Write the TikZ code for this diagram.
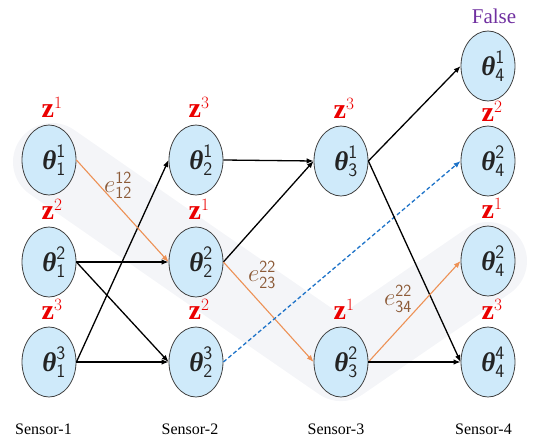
\documentclass[tikz,border=0pt]{standalone}
\usepackage{amsmath}
\usepackage{fontspec}
\setmainfont{Liberation Serif}
\usetikzlibrary{shapes.geometric,arrows.meta}
\DeclareMathSizes{24}{24}{17}{13}
\DeclareMathSizes{27}{27}{19}{15}
\DeclareMathSizes{28}{28}{19}{15}
\definecolor{nodeblue}{RGB}{207,234,250}
\definecolor{zred}{RGB}{235,0,0}
\definecolor{ebrown}{RGB}{140,90,55}
\definecolor{eorange}{RGB}{237,145,85}
\definecolor{eblue}{RGB}{30,115,200}
\definecolor{bandgray}{RGB}{244,245,248}
\definecolor{fpurple}{RGB}{112,48,160}
\definecolor{thgray}{RGB}{35,35,35}
\newcommand\mythl[2]{\hspace*{10pt}$\text{\bfseries\itshape θ}^{\mathsf{#1}}_{\mathsf{#2}}$}
\newcommand\myel[2]{$e^{\mathsf{#1}}_{\mathsf{#2}}$}
\begin{document}
\begin{tikzpicture}[x=1pt,y=-1pt,
  sn/.style={ellipse, draw=black!75, fill=nodeblue, line width=0.8pt, minimum width=54pt, minimum height=70pt, inner sep=0pt, text=thgray, font=\fontsize{27}{29}\selectfont},
  zl/.style={anchor=base, text=zred, font=\fontsize{28}{30}\selectfont},
  el/.style={text=ebrown, font=\fontsize{24}{26}\selectfont},
  sl/.style={font=\fontsize{16}{18}\selectfont},
  arr/.style={-{Latex[length=7pt,width=5.5pt]}, line width=1.3pt, black},
  oarr/.style={-{Latex[length=7pt,width=5.5pt]}, line width=1.1pt, eorange},
  barr/.style={-{Latex[length=7pt,width=5.5pt]}, line width=1.3pt, eblue, dash pattern=on 4pt off 2.5pt}]
\useasboundingbox (0,0) rectangle (533,439);
\draw[line width=78pt, line cap=round, line join=round, color=bandgray] (52,162) -- (196,262) -- (341,362) -- (488,261);

\node[sn] (a1) at (49,160) {\mythl{1}{1}};
\node[sn] (a2) at (49,262) {\mythl{2}{1}};
\node[sn] (a3) at (49,362) {\mythl{3}{1}};
\node[sn] (b1) at (196,160) {\mythl{1}{2}};
\node[sn] (b2) at (196,262) {\mythl{2}{2}};
\node[sn] (b3) at (196,362) {\mythl{3}{2}};
\node[sn] (c1) at (341,161) {\mythl{1}{3}};
\node[sn] (c2) at (341,362) {\mythl{2}{3}};
\node[sn] (d1) at (488,66) {\mythl{1}{4}};
\node[sn] (d2) at (488,161) {\mythl{2}{4}};
\node[sn] (d3) at (488,261) {\mythl{2}{4}};
\node[sn] (d4) at (488,362) {\mythl{4}{4}};

\node[zl] (za1) at ([xshift=3pt,yshift=7pt]a1.north) {$\mathbf{z}^{1}$};
\node[zl] (za2) at ([xshift=3pt,yshift=7pt]a2.north) {$\mathbf{z}^{2}$};
\node[zl] (za3) at ([xshift=3pt,yshift=7pt]a3.north) {$\mathbf{z}^{3}$};
\node[zl] (zb1) at ([xshift=3pt,yshift=7pt]b1.north) {$\mathbf{z}^{3}$};
\node[zl] (zb2) at ([xshift=3pt,yshift=7pt]b2.north) {$\mathbf{z}^{1}$};
\node[zl] (zb3) at ([xshift=3pt,yshift=7pt]b3.north) {$\mathbf{z}^{2}$};
\node[zl] (zc1) at ([xshift=3pt,yshift=7pt]c1.north) {$\mathbf{z}^{3}$};
\node[zl] (zc2) at ([xshift=3pt,yshift=7pt]c2.north) {$\mathbf{z}^{1}$};
\node[zl] (zd2) at ([xshift=4pt,yshift=4pt]d2.north) {$\mathbf{z}^{2}$};
\node[zl] (zd3) at ([xshift=4pt,yshift=7pt]d3.north) {$\mathbf{z}^{1}$};
\node[zl] (zd4) at ([xshift=4pt,yshift=7pt]d4.north) {$\mathbf{z}^{3}$};
\node[text=fpurple, font=\fontsize{21}{24}\selectfont] (fl) at (494,16) {False};

\draw[arr] (a2.east) -- (b2.west);
\draw[arr] (a2.east) -- (b3.west);
\draw[arr] (a3.east) -- (b1.west);
\draw[arr] (a3.east) -- (b3.west);
\draw[oarr] (a1.east) -- (b2.west);
\draw[arr] (b1.east) -- (c1.west);
\draw[arr] (b2.east) -- (c1.west);
\draw[oarr] (b2.east) -- (c2.west);
\draw[barr] (b3.east) -- (d2.west);
\draw[arr] (c1.east) -- (d1.west);
\draw[arr] (c1.east) -- (d4.west);
\draw[oarr] (c2.east) -- (d3.west);
\draw[arr] (c2.east) -- (d4.west);

\node[el] (e1) at (118,185) {\myel{12}{12}};
\node[el] (e2) at (262,275) {\myel{22}{23}};
\node[el] (e3) at (398,299) {\myel{22}{34}};

\node[sl] (s1) at (43.5,429) {Sensor-1};
\node[sl] (s2) at (190,429) {Sensor-2};
\node[sl] (s3) at (336,429) {Sensor-3};
\node[sl] (s4) at (483.5,429) {Sensor-4};
\end{tikzpicture}
\end{document}
